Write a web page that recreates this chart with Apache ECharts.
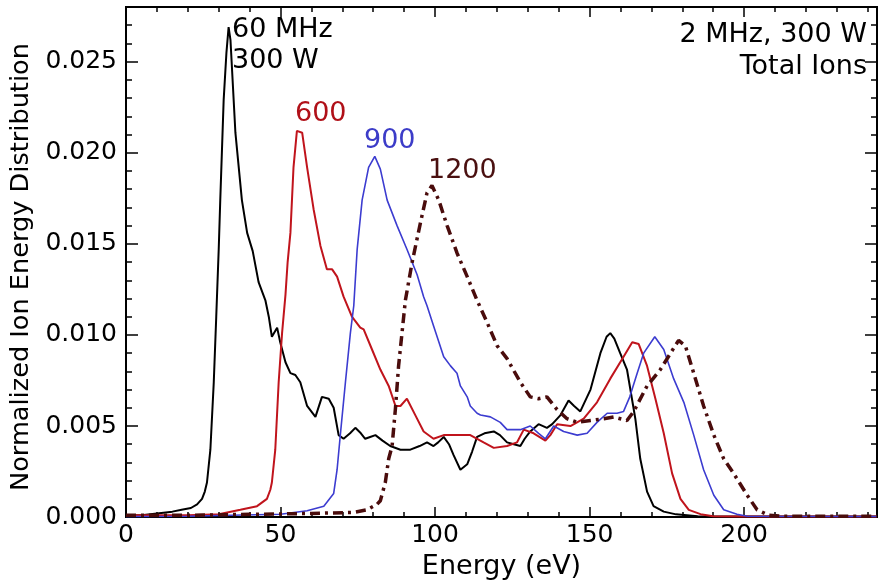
<!DOCTYPE html>
<html>
<head>
<meta charset="utf-8">
<script src="https://cdn.jsdelivr.net/npm/echarts@6/dist/echarts.min.js"></script>
<style>
html,body{margin:0;padding:0;background:#fff;}
#chart{width:884px;height:585px;}
</style>
</head>
<body>
<div id="chart"></div>
<script>
// ---- data (Energy in eV, normalized IED) ----
var blackE = [0,5,10,15,18,21,23,24.6,25.5,26.2,27.3,28.4,29.2,30.0,30.5,31.6,32.5,33.2,33.8,35.4,37.5,39.2,41.0,42.9,45.1,46.2,47.2,48.9,49.9,51.6,53.2,54.8,56.4,58.6,61.3,63.4,65.6,67.2,68.8,70.4,72.5,74.2,76,77.4,79,80.7,83,85.5,88.8,92,95,97.4,99.5,101,102.8,104.5,106,108.2,110.4,112,113.6,116,119,121,123.3,125.5,127.6,129,130.8,133.5,136.2,137.9,140.6,143.2,145,147,150.3,153.5,155.5,156.7,158,159.9,162.1,164.8,166.4,168.6,170.7,174,178,185,200,243];
var blackV = [0.0001,0.0001,0.0002,0.0003,0.0004,0.0005,0.0007,0.0010,0.0014,0.0019,0.0037,0.0074,0.0110,0.0147,0.0174,0.0229,0.0255,0.0269,0.0262,0.0211,0.0174,0.0156,0.0146,0.0129,0.0119,0.0110,0.0099,0.0104,0.0096,0.0085,0.0079,0.0078,0.0074,0.0061,0.0055,0.0066,0.0065,0.0060,0.0045,0.0043,0.0046,0.0049,0.0046,0.0043,0.0044,0.0045,0.0042,0.0039,0.0037,0.0037,0.0039,0.0041,0.0039,0.0041,0.0044,0.0040,0.0034,0.0026,0.0029,0.0036,0.0044,0.0046,0.0047,0.0045,0.0041,0.0040,0.0039,0.0043,0.0047,0.0051,0.0049,0.0051,0.0056,0.0064,0.0061,0.0058,0.0070,0.0090,0.0099,0.0101,0.0098,0.0090,0.0081,0.0054,0.0032,0.0014,0.0006,0.0003,0.00015,0.00005,0.00003,0.00003];

var redE = [0,10,20,30,37,42.4,45.6,46.7,47.2,48.3,49.4,50.5,51.6,52.3,53.2,54.2,55.3,57,58.6,60.7,62.9,65,66.7,68.3,70.4,73.1,75.8,76.9,79.6,82.3,85,87.2,88.8,90.9,93.6,96.3,99.5,102.8,107.1,111.4,115.7,119,123.3,126.5,128.7,131.9,135.7,137.3,139.5,143.8,148.1,152.4,156.7,161,163.8,165.9,168.6,171.3,174,176.7,179.4,182.1,185.9,190,200,243];
var redV = [0.0001,0.0001,0.0001,0.00016,0.0004,0.0006,0.0010,0.0015,0.0019,0.0037,0.0074,0.0101,0.0122,0.0140,0.0156,0.0192,0.0212,0.0211,0.0192,0.0169,0.0149,0.0136,0.0136,0.0132,0.0121,0.0110,0.0104,0.0103,0.0092,0.0081,0.0072,0.0061,0.0061,0.0065,0.0056,0.0047,0.0043,0.0045,0.0045,0.0045,0.0041,0.0038,0.0039,0.0041,0.0048,0.0046,0.0042,0.0045,0.0051,0.0050,0.0054,0.0063,0.0076,0.0088,0.0096,0.0095,0.0083,0.0065,0.0046,0.0024,0.0010,0.0004,0.00016,0.00005,0.00003,0.00003];

var blueE = [0,20,34,50,58.6,64,67.2,68.3,69.4,71,72.6,73.7,74.8,76.4,78.5,80.5,82.3,84.5,87.7,90.9,94.2,96.3,97.4,99.5,102.8,105,107.1,108.2,110.4,111.4,113.6,114.7,117.9,121.1,123.3,127.6,130.8,133.5,135.7,138.4,141.6,146,149.2,152.4,155.7,158.9,161,163,165.4,167.5,171.1,174,177.2,180.5,183.7,186.9,190.2,193.4,197.7,201,243];
var blueV = [0.00003,0.00005,0.0001,0.00016,0.00035,0.0006,0.0013,0.0026,0.0046,0.0074,0.0101,0.0116,0.0147,0.0174,0.0192,0.0198,0.0191,0.0174,0.0160,0.0147,0.0133,0.0121,0.0116,0.0105,0.0088,0.0083,0.0079,0.0072,0.0066,0.0061,0.0057,0.0056,0.0055,0.0052,0.0048,0.0048,0.0050,0.0046,0.0043,0.0050,0.0047,0.0045,0.0046,0.0052,0.0057,0.0057,0.0058,0.0066,0.0079,0.0090,0.0099,0.0092,0.0076,0.0063,0.0045,0.0026,0.0012,0.0004,0.00016,0.00005,0.00003];

var brownE = [0,20,40,60,73.7,78,81.2,82.3,83.9,85,86.1,87.2,88.2,89.3,90.4,92.6,95.2,97.4,99,101.2,103.9,107.1,110.4,113.6,116.8,120.1,123.3,127.6,130.8,133.5,136.2,139.5,142.7,146,150.3,154.6,157.8,162.1,164.3,168.6,172.9,176.2,178.8,181,183.7,186.9,190.2,193.4,196.6,201,204.2,208,212,243];
var brownV = [0.0001,0.0001,0.00015,0.0002,0.00026,0.0004,0.0007,0.0009,0.0019,0.0032,0.0039,0.0060,0.0083,0.0101,0.0119,0.0140,0.0161,0.0178,0.0182,0.0174,0.0160,0.0145,0.0132,0.0119,0.0107,0.0094,0.0087,0.0074,0.0066,0.0065,0.0066,0.0059,0.0054,0.0052,0.0053,0.0054,0.0055,0.0053,0.0058,0.0072,0.0081,0.0090,0.0097,0.0094,0.0079,0.0061,0.0045,0.0032,0.0024,0.0012,0.0004,0.0001,0.00005,0.00005];

var xTicks = [0, 50, 100, 150, 200];
var yTicks = [0.000, 0.005, 0.010, 0.015, 0.020, 0.025];

var xTitle = 'Energy (eV)';
var yTitle = 'Normalized Ion Energy Distribution';

function zip(a, b) { return a.map(function (x, i) { return [x, b[i]]; }); }

var FONT = 'DejaVu Sans';
var chart = echarts.init(document.getElementById('chart'), null, {renderer: 'canvas'});

var X_MIN = 0, X_MAX = 243, Y_MIN = 0, Y_MAX = 0.028;

function xAx(pos, interval, len, withLabel) {
  return {
    type: 'value', position: pos, min: X_MIN, max: X_MAX, interval: interval,
    gridIndex: 0,
    axisLine: {show: true, onZero: false, lineStyle: {color: '#000', width: 2}},
    axisTick: {show: true, inside: true, length: len, lineStyle: {color: '#000', width: 1.5}},
    axisLabel: withLabel ? {
      show: true, fontFamily: FONT, fontSize: 25, color: '#000', margin: 6,
      formatter: function (v) { return xTicks.indexOf(v) >= 0 ? String(v) : ''; }
    } : {show: false},
    splitLine: {show: false},
    name: withLabel ? xTitle : '', nameLocation: 'middle', nameGap: 29,
    nameTextStyle: {fontFamily: FONT, fontSize: 27, color: '#000'}
  };
}
function yAx(pos, interval, len, withLabel) {
  return {
    type: 'value', position: pos, min: Y_MIN, max: Y_MAX, interval: interval,
    gridIndex: 0,
    axisLine: {show: true, onZero: false, lineStyle: {color: '#000', width: 2}},
    axisTick: {show: true, inside: true, length: len, lineStyle: {color: '#000', width: 1.5}},
    axisLabel: withLabel ? {
      show: true, fontFamily: FONT, fontSize: 25, color: '#000', margin: 9,
      formatter: function (v) {
        for (var i = 0; i < yTicks.length; i++) if (Math.abs(yTicks[i] - v) < 1e-9) return v.toFixed(3);
        return '';
      }
    } : {show: false},
    splitLine: {show: false},
    name: withLabel ? yTitle : '', nameLocation: 'middle', nameGap: 87, nameRotate: 90,
    nameTextStyle: {fontFamily: FONT, fontSize: 25.6, color: '#000', padding: [0, 10, 0, 0]}
  };
}

function line(name, e, v, color, width, type) {
  return {
    name: name, type: 'line', xAxisIndex: 0, yAxisIndex: 0,
    data: zip(e, v), showSymbol: false, symbol: 'none', smooth: false,
    lineStyle: {color: color, width: width, type: type || 'solid'},
    animation: false, silent: true
  };
}

function txt(x, y, s, color, align) {
  return {
    type: 'text', left: align === 'right' ? null : x, right: align === 'right' ? x : null, top: y,
    style: {text: s, fill: color, font: '27px "' + FONT + '"'}
  };
}

chart.setOption({
  animation: false,
  backgroundColor: '#fff',
  grid: {left: 126, top: 7, right: 7, bottom: 67, containLabel: false},
  xAxis: [
    xAx('bottom', 10, 5, true),
    xAx('bottom', 50, 10, false),
    xAx('top', 10, 5, false),
    xAx('top', 50, 10, false)
  ],
  yAxis: [
    yAx('left', 0.005, 12, true),
    yAx('left', 0.001, 6, false),
    yAx('right', 0.001, 6, false),
    yAx('right', 0.005, 12, false)
  ],
  series: [
    line('60 MHz', blackE, blackV, '#000000', 2),
    line('600', redE, redV, '#c0141c', 2),
    line('900', blueE, blueV, '#3c3cd0', 1.6),
    line('1200', brownE, brownV, '#4a0c0c', 3.5, [10, 5, 3, 5])
  ],
  graphic: [
    txt(232, 16, '60 MHz', '#000'),
    txt(232, 47, '300 W', '#000'),
    txt(295, 100, '600', '#b01018'),
    txt(364, 127, '900', '#3c3cc8'),
    txt(428, 157, '1200', '#4a1010'),
    txt(17, 21, '2 MHz, 300 W', '#000', 'right'),
    txt(17, 53, 'Total Ions', '#000', 'right')
  ]
});
</script>
</body>
</html>
